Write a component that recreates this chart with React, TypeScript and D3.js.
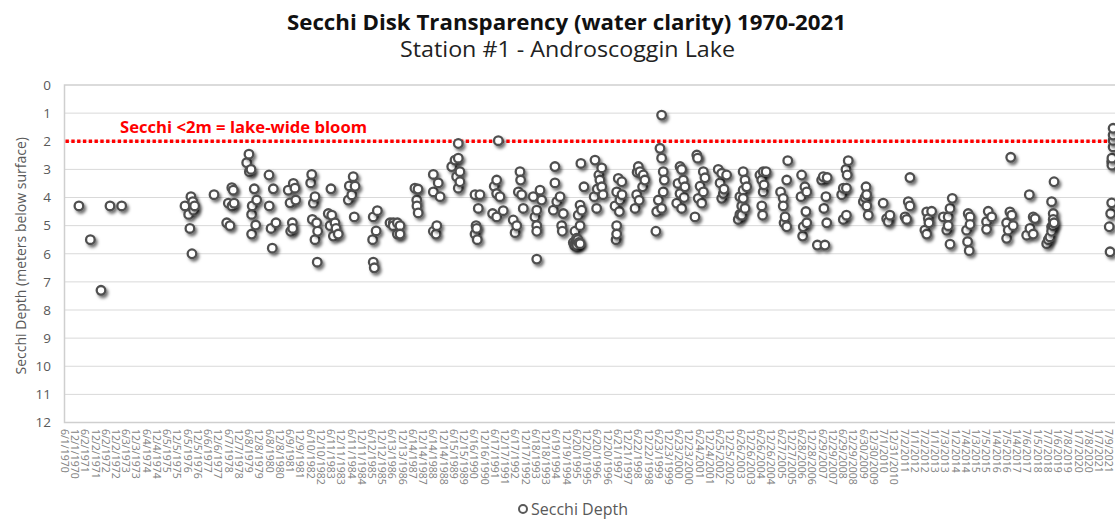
import React, { useEffect, useRef } from 'react';
import * as d3 from 'd3';

// [decimal year, secchi depth in meters]
const secchi1970s: [number, number][] = [
    [1971.12, 4.3], [1971.68, 5.5], [1972.20, 7.3], [1972.64, 4.3], [1973.21, 4.3],
    [1976.31, 4.3], [1976.49, 4.6], [1976.55, 5.1], [1976.60, 3.97], [1976.65, 6.0], [1976.69, 4.15], [1976.73, 4.45], [1976.78, 4.3],
    [1977.73, 3.9],
    [1978.35, 4.9], [1978.43, 4.2], [1978.51, 5.0], [1978.60, 3.65], [1978.61, 4.3], [1978.67, 3.74], [1978.71, 4.2],
    [1979.33, 2.76], [1979.44, 2.46], [1979.46, 3.08], [1979.54, 3.0], [1979.57, 4.6], [1979.57, 5.3], [1979.60, 4.3], [1979.70, 3.69], [1979.77, 4.98], [1979.82, 4.09],
];

const secchi1980s: [number, number][] = [
    [1980.42, 3.2], [1980.43, 4.3], [1980.52, 5.1], [1980.58, 5.8], [1980.63, 3.69], [1980.76, 4.9],
    [1981.36, 3.74], [1981.45, 4.19], [1981.48, 5.2], [1981.56, 4.9], [1981.58, 5.1], [1981.61, 3.5], [1981.69, 3.67], [1981.73, 4.09],
    [1982.46, 3.48], [1982.51, 3.18], [1982.54, 4.78], [1982.59, 4.2], [1982.67, 3.97], [1982.67, 5.5], [1982.75, 4.9], [1982.78, 6.3], [1982.80, 5.2],
    [1983.32, 4.57], [1983.41, 5.0], [1983.45, 3.69], [1983.49, 4.63], [1983.57, 5.37], [1983.65, 4.9], [1983.70, 5.1], [1983.81, 5.3],
    [1984.30, 4.09], [1984.35, 3.59], [1984.47, 3.91], [1984.54, 3.26], [1984.59, 4.69], [1984.63, 3.6],
    [1985.49, 5.5], [1985.52, 4.69], [1985.52, 6.3], [1985.57, 6.5], [1985.66, 5.19], [1985.72, 4.47],
    [1986.34, 4.9], [1986.50, 4.9], [1986.50, 5.0], [1986.70, 4.9], [1986.70, 5.3], [1986.83, 5.0], [1986.83, 5.3],
    [1987.56, 3.67], [1987.65, 4.09], [1987.66, 4.3], [1987.71, 3.7], [1987.72, 4.55],
    [1988.46, 3.18], [1988.46, 3.8], [1988.46, 5.2], [1988.59, 5.3], [1988.63, 5.0], [1988.70, 3.48], [1988.79, 3.97],
    [1989.36, 2.9], [1989.52, 2.67], [1989.60, 3.26], [1989.68, 2.08], [1989.68, 2.6], [1989.68, 3.67], [1989.76, 3.08], [1989.76, 3.44],
];

const secchi1990s: [number, number][] = [
    [1990.50, 3.9], [1990.50, 5.3], [1990.55, 5.0], [1990.58, 5.1], [1990.61, 5.5], [1990.66, 4.39], [1990.74, 3.9],
    [1991.36, 4.57], [1991.44, 3.6], [1991.56, 3.38], [1991.56, 3.86], [1991.56, 4.69], [1991.64, 1.98], [1991.72, 3.97], [1991.88, 4.47],
    [1992.37, 4.8], [1992.46, 5.25], [1992.54, 5.0], [1992.62, 3.8], [1992.70, 3.08], [1992.73, 3.38], [1992.78, 3.9], [1992.86, 4.39],
    [1993.35, 3.97], [1993.43, 4.69], [1993.52, 4.45], [1993.52, 5.0], [1993.52, 5.2], [1993.52, 6.19], [1993.68, 3.74], [1993.76, 4.09],
    [1994.33, 4.45], [1994.41, 2.9], [1994.41, 3.48], [1994.50, 4.15], [1994.66, 3.97], [1994.74, 5.0], [1994.77, 5.2], [1994.82, 4.57],
    [1995.31, 5.6], [1995.36, 5.7], [1995.39, 5.2], [1995.41, 5.6], [1995.44, 5.64], [1995.47, 5.45], [1995.48, 5.7], [1995.53, 5.5],
    [1995.55, 4.63], [1995.58, 5.6], [1995.64, 4.27], [1995.64, 5.0], [1995.64, 5.64], [1995.68, 2.79], [1995.72, 4.45], [1995.83, 3.62],
    [1996.33, 3.97], [1996.37, 2.67], [1996.45, 4.39], [1996.48, 3.7], [1996.56, 3.2], [1996.61, 3.38], [1996.70, 2.95], [1996.70, 3.62], [1996.76, 3.9],
    [1997.35, 4.3], [1997.40, 5.5], [1997.43, 3.8], [1997.43, 5.0], [1997.43, 5.3], [1997.51, 3.32], [1997.56, 4.5], [1997.59, 4.09], [1997.68, 3.44], [1997.69, 3.9],
    [1998.33, 4.39], [1998.41, 3.9], [1998.43, 3.1], [1998.49, 2.9], [1998.53, 4.1], [1998.57, 3.08], [1998.70, 3.62], [1998.73, 3.2], [1998.81, 3.38],
    [1999.35, 5.2], [1999.39, 4.5], [1999.47, 4.09], [1999.55, 2.25], [1999.63, 1.07], [1999.63, 2.6], [1999.63, 4.39], [1999.71, 3.08], [1999.71, 3.8], [1999.76, 3.38],
];

const secchi2000s: [number, number][] = [
    [2000.37, 4.2], [2000.43, 3.5], [2000.53, 2.9], [2000.53, 3.86], [2000.61, 3.0], [2000.61, 4.39], [2000.69, 3.38], [2000.73, 4.0], [2000.77, 3.62],
    [2001.26, 4.69], [2001.35, 2.49], [2001.39, 2.6], [2001.42, 4.03], [2001.51, 3.6], [2001.59, 4.2], [2001.67, 3.08], [2001.67, 3.8], [2001.75, 3.3],
    [2002.40, 3.0], [2002.49, 3.48], [2002.57, 3.14], [2002.57, 4.03], [2002.65, 3.86], [2002.68, 3.7], [2002.81, 3.2],
    [2003.38, 4.78], [2003.46, 3.97], [2003.46, 4.6], [2003.55, 4.3], [2003.55, 4.63], [2003.62, 3.08], [2003.62, 3.74], [2003.62, 4.03], [2003.71, 3.38], [2003.71, 4.39], [2003.79, 3.62],
    [2004.44, 3.2], [2004.53, 3.38], [2004.53, 4.3], [2004.57, 4.63], [2004.60, 3.08], [2004.60, 3.8], [2004.64, 3.55], [2004.74, 3.08],
    [2005.45, 3.8], [2005.58, 4.03], [2005.58, 4.3], [2005.62, 4.9], [2005.67, 4.69], [2005.75, 3.38], [2005.75, 5.04], [2005.80, 2.69],
    [2006.45, 3.97], [2006.48, 3.2], [2006.53, 5.37], [2006.56, 5.04], [2006.64, 3.62], [2006.69, 4.5], [2006.73, 3.8], [2006.73, 4.9],
    [2007.25, 5.69], [2007.46, 3.38], [2007.54, 3.26], [2007.57, 4.39], [2007.62, 5.69], [2007.67, 3.97], [2007.71, 4.9], [2007.73, 3.29],
    [2008.44, 3.9], [2008.52, 3.67], [2008.52, 4.78], [2008.65, 3.0], [2008.67, 3.67], [2008.67, 4.63], [2008.71, 3.2], [2008.76, 2.69],
    [2009.50, 4.15], [2009.58, 4.0], [2009.63, 3.62], [2009.66, 3.9], [2009.67, 4.3], [2009.74, 4.63],
];

const secchi2010s: [number, number][] = [
    [2010.47, 4.2], [2010.64, 4.75], [2010.72, 4.86], [2010.80, 4.63],
    [2011.54, 4.69], [2011.62, 4.78], [2011.70, 4.15], [2011.78, 3.29], [2011.78, 4.3],
    [2012.51, 5.16], [2012.60, 4.51], [2012.60, 5.3], [2012.68, 4.75], [2012.71, 4.9], [2012.84, 4.49],
    [2013.41, 4.69], [2013.58, 5.16], [2013.65, 4.69], [2013.65, 5.0], [2013.74, 4.39], [2013.74, 5.66], [2013.85, 4.03],
    [2014.55, 5.16], [2014.60, 5.57], [2014.63, 4.57], [2014.68, 5.89], [2014.72, 4.69], [2014.72, 4.96],
    [2015.53, 4.86], [2015.53, 5.13], [2015.61, 4.49], [2015.78, 4.69],
    [2016.51, 4.9], [2016.51, 5.45], [2016.59, 5.16], [2016.67, 4.51], [2016.71, 2.57], [2016.76, 4.63], [2016.83, 5.0],
    [2017.49, 5.34], [2017.62, 3.9], [2017.65, 5.1], [2017.81, 4.69], [2017.81, 5.3], [2017.90, 4.75],
    [2018.47, 5.64], [2018.55, 5.5], [2018.63, 5.4], [2018.71, 4.15], [2018.71, 5.04], [2018.71, 5.2], [2018.78, 5.0],
    [2018.79, 4.57], [2018.79, 4.78], [2018.83, 3.44], [2018.83, 4.9],
];

const secchi2020s: [number, number][] = [
    [2021.53, 5.04], [2021.57, 5.93], [2021.60, 4.57], [2021.65, 4.19], [2021.65, 2.73], [2021.66, 2.85],
    [2021.66, 2.6], [2021.72, 2.2], [2021.72, 1.97], [2021.72, 1.78], [2021.72, 1.54],
];

const depthTicks = [0, 1, 2, 3, 4, 5, 6, 7, 8, 9, 10, 11, 12];
const bloomDepth = 2;

// Excel date axis: first label 6/1/1970, one label every 183 days
const firstTickDate = new Date(1970, 5, 1);
const tickStepDays = 183;
const tickCount = 103;

const toDate = (v: number) => {
    const yr = Math.floor(v);
    const a = new Date(yr, 0, 1).getTime();
    const b = new Date(yr + 1, 0, 1).getTime();
    return new Date(a + (v - yr) * (b - a));
};

const App: React.FC = () => {
    const svgRef = useRef<SVGSVGElement>(null);

    useEffect(() => {
        if (!svgRef.current) return;

        const svg = d3.select(svgRef.current);
        svg.selectAll('*').remove();

        const width = 1115;
        const plotLeft = 64.5;
        const plotTop = 85;
        const plotBottom = 422.5;
        const plotRight = 1130;
        const gray = '#595959';
        const font = "'Open Sans', 'Liberation Sans', sans-serif";

        const ticks = d3.range(tickCount).map(i => d3.timeDay.offset(firstTickDate, i * tickStepDays));

        const x = d3.scaleTime()
            .domain([firstTickDate, ticks[ticks.length - 1]])
            .range([plotLeft, 1109]);

        const y = d3.scaleLinear()
            .domain([0, 12])
            .range([plotTop, plotBottom]);

        const defs = svg.append('defs');
        defs.append('filter')
            .attr('id', 'marker-shadow')
            .attr('x', '-80%').attr('y', '-80%')
            .attr('width', '260%').attr('height', '260%')
            .append('feDropShadow')
            .attr('dx', 2)
            .attr('dy', 2.5)
            .attr('stdDeviation', 1.6)
            .attr('flood-color', '#000')
            .attr('flood-opacity', 0.55);

        // Title
        svg.append('text')
            .attr('x', 287)
            .attr('y', 30)
            .attr('font-family', font)
            .attr('font-weight', 'bold')
            .attr('font-size', '20.5px')
            .attr('fill', '#111')
            .attr('textLength', 559)
            .attr('lengthAdjust', 'spacingAndGlyphs')
            .text('Secchi Disk Transparency (water clarity) 1970-2021');

        svg.append('text')
            .attr('x', 400)
            .attr('y', 57)
            .attr('font-family', font)
            .attr('font-size', '21.5px')
            .attr('fill', '#222')
            .attr('textLength', 335)
            .attr('lengthAdjust', 'spacingAndGlyphs')
            .text('Station #1 - Androscoggin Lake');

        // Gridlines
        svg.append('g')
            .selectAll('line')
            .data(depthTicks.slice(1, -1))
            .join('line')
            .attr('x1', plotLeft)
            .attr('x2', plotRight)
            .attr('y1', d => y(d))
            .attr('y2', d => y(d))
            .attr('stroke', '#d9d9d9')
            .attr('stroke-width', 1);

        // Plot area border
        svg.append('rect')
            .attr('x', plotLeft)
            .attr('y', plotTop)
            .attr('width', plotRight - plotLeft)
            .attr('height', plotBottom - plotTop)
            .attr('fill', 'none')
            .attr('stroke', '#cfcfcf')
            .attr('stroke-width', 1.5);

        // Y tick labels
        svg.append('g')
            .selectAll('text')
            .data(depthTicks)
            .join('text')
            .attr('x', 51)
            .attr('y', d => y(d))
            .attr('dy', '0.36em')
            .attr('text-anchor', 'end')
            .attr('font-family', font)
            .attr('font-size', '13.5px')
            .attr('fill', gray)
            .text(d => d);

        // Y axis title
        svg.append('text')
            .attr('transform', `translate(21, ${(plotTop + plotBottom) / 2 + 2}) rotate(-90)`)
            .attr('text-anchor', 'middle')
            .attr('dy', '0.35em')
            .attr('font-family', font)
            .attr('font-size', '14px')
            .attr('fill', gray)
            .text('Secchi Depth (meters below surface)');

        // X tick labels (rotated, reading downward)
        const fmt = (d: Date) => `${d.getMonth() + 1}/${d.getDate()}/${d.getFullYear()}`;
        svg.append('g')
            .selectAll('text')
            .data(ticks)
            .join('text')
            .attr('transform', d => `translate(${x(d)}, 429) rotate(90)`)
            .attr('dy', '0.35em')
            .attr('text-anchor', 'start')
            .attr('font-family', font)
            .attr('font-size', '10.5px')
            .attr('fill', '#7f7f7f')
            .text(d => fmt(d));

        // Bloom threshold line
        svg.append('line')
            .attr('x1', plotLeft + 1)
            .attr('x2', width)
            .attr('y1', y(bloomDepth))
            .attr('y2', y(bloomDepth))
            .attr('stroke', '#ff0000')
            .attr('stroke-width', 3.5)
            .attr('stroke-dasharray', '3.4 2.4');

        svg.append('text')
            .attr('x', 120)
            .attr('y', 133)
            .attr('font-family', font)
            .attr('font-weight', 'bold')
            .attr('font-size', '16px')
            .attr('fill', '#ff0000')
            .attr('textLength', 247)
            .attr('lengthAdjust', 'spacingAndGlyphs')
            .text('Secchi <2m = lake-wide bloom');

        // Markers
        const allPoints = [
            ...secchi1970s, ...secchi1980s, ...secchi1990s,
            ...secchi2000s, ...secchi2010s, ...secchi2020s,
        ];

        svg.append('g')
            .selectAll('circle')
            .data(allPoints)
            .join('circle')
            .attr('cx', d => x(toDate(d[0])))
            .attr('cy', d => y(d[1]))
            .attr('r', 4.3)
            .attr('fill', '#fff')
            .attr('stroke', '#505050')
            .attr('stroke-width', 2.3)
            .attr('filter', 'url(#marker-shadow)');

        // Legend
        svg.append('circle')
            .attr('cx', 523)
            .attr('cy', 509)
            .attr('r', 4)
            .attr('fill', '#fff')
            .attr('stroke', gray)
            .attr('stroke-width', 2);

        svg.append('text')
            .attr('x', 531)
            .attr('y', 514.5)
            .attr('font-family', font)
            .attr('font-size', '16px')
            .attr('fill', gray)
            .text('Secchi Depth');
    }, []);

    return (
        <div style={{ position: 'absolute', left: 0, top: 0 }}>
            <svg ref={svgRef} width={1115} height={519} style={{ display: 'block', background: '#fff' }} />
        </div>
    );
};

export default App;
